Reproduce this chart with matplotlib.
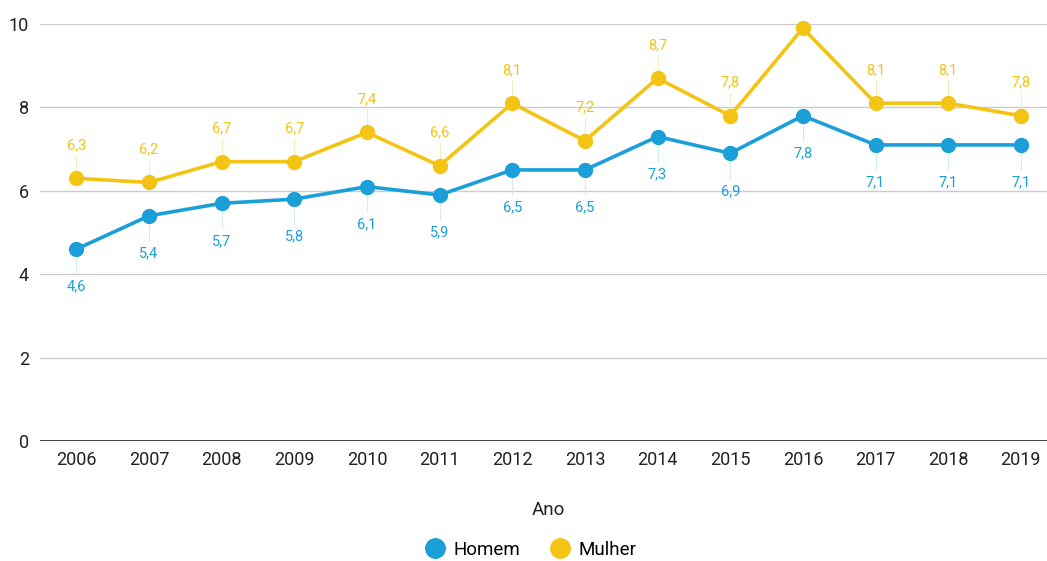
import matplotlib
matplotlib.use("Agg")
import matplotlib.pyplot as plt
from matplotlib.lines import Line2D

years = ["2006", "2007", "2008", "2009", "2010", "2011", "2012",
         "2013", "2014", "2015", "2016", "2017", "2018", "2019"]
homem = [4.6, 5.4, 5.7, 5.8, 6.1, 5.9, 6.5, 6.5, 7.3, 6.9, 7.8, 7.1, 7.1, 7.1]
mulher = [6.3, 6.2, 6.7, 6.7, 7.4, 6.6, 8.1, 7.2, 8.7, 7.8, 9.9, 8.1, 8.1, 7.8]

C_HOMEM = "#1a9fd9"
C_MULHER = "#f4c414"
FONT = "Roboto"

fig = plt.figure(figsize=(10.47, 5.61), dpi=100)
ax = fig.add_axes([40 / 1047, 1 - 441 / 561, 1 - 40 / 1047, (441 - 24) / 561])

x = list(range(len(years)))
ax.set_xlim(-0.5, 13.36)
ax.set_ylim(0, 10)

for v in [2, 4, 6, 8, 10]:
    ax.axhline(v, color="#cccccc", lw=1, zorder=0)
ax.axhline(0, color="#333333", lw=1.3, zorder=1)

ax.plot(x, mulher, color=C_MULHER, lw=2.6, marker="o", ms=10, zorder=3, clip_on=False)
ax.plot(x, homem, color=C_HOMEM, lw=2.6, marker="o", ms=10, zorder=3, clip_on=False)

# data labels (the 2016 Mulher label falls outside the plot area)
for xi, v in zip(x, mulher):
    if v + 0.8 > 10:
        continue
    ax.plot([xi, xi], [v + 0.15, v + 0.55], color="#f3e6b0", lw=0.6, zorder=2)
    ax.text(xi, v + 0.8, f"{v:.1f}".replace(".", ","), ha="center", va="center",
            fontsize=10.5, color=C_MULHER, family=FONT)
for xi, v in zip(x, homem):
    ax.plot([xi, xi], [v - 0.15, v - 0.6], color="#cfe6f2", lw=0.6, zorder=2)
    ax.text(xi, v - 0.9, f"{v:.1f}".replace(".", ","), ha="center", va="center",
            fontsize=10.5, color=C_HOMEM, family=FONT)

ax.set_xticks(x)
ax.set_xticklabels(years, family=FONT, fontsize=13, color="#222222")
ax.set_yticks([0, 2, 4, 6, 8, 10])
ax.set_yticklabels(["0", "2", "4", "6", "8", "10"], family=FONT, fontsize=13, color="#222222")
ax.tick_params(axis="y", length=0, pad=8)
ax.tick_params(axis="x", length=0, pad=7)
for s in ax.spines.values():
    s.set_visible(False)

fig.text(548 / 1047, 1 - 510 / 561, "Ano", ha="center", va="center",
         family=FONT, fontsize=13.5, color="#222222")

handles = [
    Line2D([], [], ls="none", marker="o", ms=14, color=C_HOMEM, label="Homem"),
    Line2D([], [], ls="none", marker="o", ms=14, color=C_MULHER, label="Mulher"),
]
fig.legend(handles=handles, loc="center", bbox_to_anchor=(530 / 1047, 1 - 550 / 561),
           ncol=2, frameon=False, prop={"family": FONT, "size": 13.5},
           handletextpad=0.4, columnspacing=1.5, handlelength=1.2)

fig.savefig("out.png", dpi=100, facecolor="white")
